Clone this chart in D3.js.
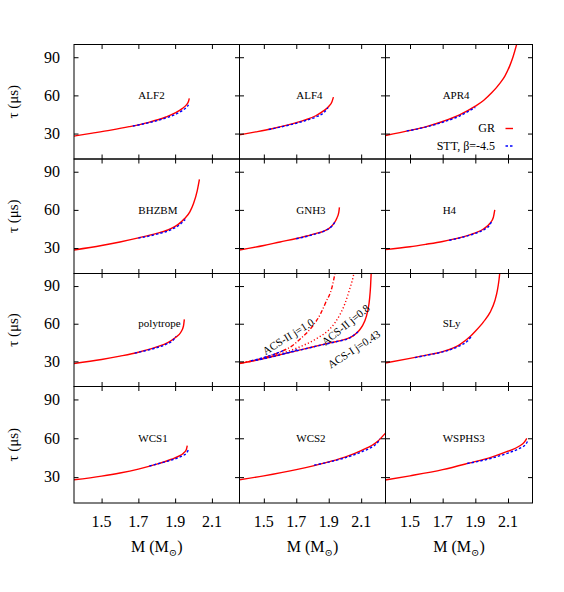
<!DOCTYPE html>
<html>
<head>
<meta charset="utf-8">
<script src="https://cdn.jsdelivr.net/npm/d3@7"></script>
<style>
  body { margin: 0; background: #fff; }
  svg text { font-family: "Liberation Serif", "Times New Roman", "DejaVu Serif", serif; fill: #000; }
</style>
</head>
<body>
<script>
// axes
let xTicks = [1.5, 1.7, 1.9, 2.1];
let yTicks = [30, 60, 90];
let xDomain = [1.35, 2.25];
let yDomain = [10, 100];

// [M, tau]
let grALF2 = [[1.35,28.0],[1.45,30.3],[1.55,32.7],[1.65,35.4],[1.75,38.6],[1.85,43.0],[1.9,46.2],[1.94,49.8],[1.96,52.4],[1.972,55.0],[1.977,57.7]];
let sttALF2 = [[1.67,35.9],[1.75,38.3],[1.85,42.3],[1.9,45.0],[1.94,48.2],[1.962,50.6],[1.973,52.6]];
let grALF4 = [[1.35,29.0],[1.45,31.3],[1.55,33.8],[1.65,36.8],[1.75,40.5],[1.82,44.0],[1.87,48.0],[1.9,51.3],[1.92,55.0],[1.929,58.6]];
let sttALF4 = [[1.53,33.2],[1.65,36.5],[1.75,39.9],[1.82,43.0],[1.87,46.5],[1.895,50.3]];
let grAPR4 = [[1.35,28.5],[1.5,32.5],[1.6,35.5],[1.7,39.5],[1.8,44.5],[1.9,51.5],[1.95,56.0],[2.0,62.0],[2.05,69.5],[2.08,75.0],[2.11,83.0],[2.13,90.0],[2.155,101.0]];
let sttAPR4 = [[1.48,32.0],[1.6,35.2],[1.7,38.9],[1.8,43.6],[1.9,50.6]];
let grBHZBM = [[1.35,28.5],[1.5,32.0],[1.6,34.8],[1.7,38.0],[1.8,41.5],[1.86,44.2],[1.92,49.0],[1.95,53.0],[1.98,58.5],[2.0,65.0],[2.02,75.0],[2.032,84.0]];
let sttBHZBM = [[1.7,37.8],[1.8,40.9],[1.88,44.6],[1.93,49.0],[1.955,52.5]];
let grGNH3 = [[1.35,28.5],[1.5,32.0],[1.6,34.8],[1.7,37.5],[1.8,40.8],[1.9,45.3],[1.93,49.0],[1.95,53.5],[1.962,58.0],[1.966,62.0]];
let sttGNH3 = [[1.7,37.3],[1.8,40.4],[1.88,43.8],[1.92,47.3],[1.94,50.8]];
let grH4 = [[1.35,28.8],[1.5,31.0],[1.6,33.0],[1.7,35.2],[1.8,38.0],[1.9,42.0],[1.95,45.0],[1.99,49.5],[2.01,54.0],[2.019,60.0]];
let sttH4 = [[1.74,36.1],[1.82,38.5],[1.9,41.6],[1.96,45.0],[1.99,48.5],[2.003,52.0]];
let grPoly = [[1.35,28.3],[1.5,31.5],[1.6,34.2],[1.7,37.3],[1.8,41.5],[1.86,45.0],[1.9,48.8],[1.93,53.0],[1.945,58.0],[1.95,63.5]];
let sttPoly = [[1.68,36.6],[1.78,40.1],[1.85,43.6],[1.89,47.0],[1.905,50.0]];
let grSLy = [[1.35,28.8],[1.5,32.4],[1.6,35.0],[1.7,37.8],[1.8,43.0],[1.87,50.0],[1.9,54.0],[1.95,61.5],[1.99,69.0],[2.02,78.5],[2.035,86.5],[2.045,95.0],[2.05,101.0]];
let sttSLy = [[1.53,33.0],[1.63,35.6],[1.73,38.6],[1.8,42.2],[1.85,46.0],[1.878,50.3]];
let grWCS1 = [[1.35,27.9],[1.5,30.8],[1.6,33.2],[1.7,36.2],[1.8,40.0],[1.88,43.8],[1.92,46.2],[1.945,48.5],[1.96,51.0],[1.966,54.4]];
let sttWCS1 = [[1.76,38.6],[1.84,41.6],[1.9,44.1],[1.94,46.5],[1.963,48.8],[1.972,51.0]];
let grWCS2 = [[1.35,28.0],[1.5,31.0],[1.7,35.8],[1.9,41.8],[2.0,45.5],[2.1,50.5],[2.2,57.5],[2.25,64.0]];
let sttWCS2 = [[1.81,39.3],[1.9,41.6],[2.0,44.9],[2.1,49.4],[2.17,53.6],[2.2,56.4],[2.215,59.5]];
let grWSPHS3 = [[1.35,27.8],[1.5,31.0],[1.7,35.8],[1.86,40.8],[2.0,45.5],[2.1,50.0],[2.17,54.0],[2.2,57.0],[2.215,60.0]];
let sttWSPHS3 = [[1.85,40.5],[2.0,44.6],[2.1,48.6],[2.17,52.2],[2.21,55.5],[2.222,58.2]];

// rotating models panel
let acsI = [[1.35,28.2],[1.5,32.2],[1.6,35.3],[1.7,38.4],[1.8,41.5],[1.9,44.6],[2.0,47.5],[2.05,50.3],[2.09,55.0],[2.12,61.5],[2.14,70.0],[2.152,80.0],[2.158,90.0],[2.162,101.0]];
let sttAcsI = [[1.62,36.0],[1.75,39.8],[1.85,42.9],[1.95,45.8],[2.03,48.8],[2.08,53.5]];
let acsII10 = [[1.35,28.5],[1.45,31.0],[1.53,34.2],[1.6,37.5],[1.67,42.0],[1.73,48.5],[1.8,58.0],[1.85,68.0],[1.88,76.5],[1.92,89.0],[1.94,101.0]];
let sttAcsII10 = [[1.42,30.4],[1.5,33.1],[1.57,36.0],[1.62,38.6]];
let acsII08 = [[1.35,28.5],[1.45,31.0],[1.55,34.0],[1.63,37.2],[1.73,42.0],[1.83,48.5],[1.9,55.0],[1.94,61.0],[1.97,67.5],[2.0,76.0],[2.03,88.0],[2.05,97.0],[2.056,101.0]];
let sttAcsII08 = [[1.45,30.8],[1.55,33.6],[1.65,37.0],[1.72,40.0]];
let acsLabels = [
  {text: "ACS-II j=1.0", m: 1.651, tau: 49.7, angle: -32},
  {text: "ACS-II j=0.8", m: 2.005, tau: 59.0, angle: -39},
  {text: "ACS-I j=0.43", m: 2.056, tau: 39.6, angle: -33}
];

let panels = [
  {r:0, c:0, name:"ALF2", gr:grALF2, stt:sttALF2},
  {r:0, c:1, name:"ALF4", gr:grALF4, stt:sttALF4},
  {r:0, c:2, name:"APR4", gr:grAPR4, stt:sttAPR4, legend:true},
  {r:1, c:0, name:"BHZBM", gr:grBHZBM, stt:sttBHZBM},
  {r:1, c:1, name:"GNH3", gr:grGNH3, stt:sttGNH3},
  {r:1, c:2, name:"H4", gr:grH4, stt:sttH4},
  {r:2, c:0, name:"polytrope", gr:grPoly, stt:sttPoly},
  {r:2, c:1, name:null, acs:true},
  {r:2, c:2, name:"SLy", gr:grSLy, stt:sttSLy},
  {r:3, c:0, name:"WCS1", gr:grWCS1, stt:sttWCS1},
  {r:3, c:1, name:"WCS2", gr:grWCS2, stt:sttWCS2},
  {r:3, c:2, name:"WSPHS3", gr:grWSPHS3, stt:sttWSPHS3}
];

let colEdges = [74, 239.5, 385.5, 532.5];
let rowEdges = [44.5, 159, 273.5, 386.5, 503];
let red = "#ff0000";
let blue = "#0000ff";
let tickLen = 4.5;
let serif = "'Liberation Serif', 'Times New Roman', 'DejaVu Serif', serif";

let svg = d3.select("body").append("svg")
  .attr("width", 564)
  .attr("height", 592)
  .attr("font-family", serif);

let defs = svg.append("defs");

panels.forEach((p, i) => {
  let x0 = colEdges[p.c], x1 = colEdges[p.c + 1];
  let y0 = rowEdges[p.r], y1 = rowEdges[p.r + 1];
  let x = d3.scaleLinear().domain(xDomain).range([x0, x1]);
  let y = d3.scaleLinear().domain(yDomain).range([y1, y0]);
  let line = d3.line().x(d => x(d[0])).y(d => y(d[1])).curve(d3.curveMonotoneX);

  defs.append("clipPath").attr("id", "clip" + i)
    .append("rect")
    .attr("x", x0).attr("y", y0)
    .attr("width", x1 - x0).attr("height", y1 - y0);

  let g = svg.append("g").attr("font-family", serif);
  let plot = g.append("g").attr("clip-path", "url(#clip" + i + ")");

  let curves = [];
  if (p.acs) {
    curves = [
      {d: acsII10, color: red, dash: "4,2,1,2"},
      {d: acsII08, color: red, dash: "1.2,2.2"},
      {d: acsI, color: red, dash: null},
      {d: sttAcsII10, color: blue, dash: "2.5,2"},
      {d: sttAcsII08, color: blue, dash: "2.5,2"},
      {d: sttAcsI, color: blue, dash: "2.5,2"}
    ];
  } else {
    curves = [
      {d: p.gr, color: red, dash: null},
      {d: p.stt, color: blue, dash: "2.5,2"}
    ];
  }
  curves.forEach(cv => {
    plot.append("path")
      .attr("d", line(cv.d))
      .attr("fill", "none")
      .attr("stroke", cv.color)
      .attr("stroke-width", 1.4)
      .attr("stroke-dasharray", cv.dash);
  });

  // border
  g.append("rect")
    .attr("x", x0).attr("y", y0)
    .attr("width", x1 - x0).attr("height", y1 - y0)
    .attr("fill", "none")
    .attr("stroke", "#000")
    .attr("stroke-width", 1);

  // inward ticks on all four sides
  let axes = [
    [d3.axisBottom(x).tickValues(xTicks), "translate(0," + y1 + ")"],
    [d3.axisTop(x).tickValues(xTicks), "translate(0," + y0 + ")"],
    [d3.axisLeft(y).tickValues(yTicks), "translate(" + x0 + ",0)"],
    [d3.axisRight(y).tickValues(yTicks), "translate(" + x1 + ",0)"]
  ];
  axes.forEach(a => {
    let ax = g.append("g").attr("transform", a[1])
      .call(a[0].tickSize(-tickLen).tickFormat(""));
    ax.select(".domain").remove();
    ax.selectAll(".tick line").attr("stroke", "#000").attr("stroke-width", 1);
  });

  if (p.name) {
    g.append("text")
      .attr("x", x(1.7))
      .attr("y", y(60))
      .attr("dy", "0.33em")
      .attr("font-size", 11)
      .attr("font-family", serif)
      .text(p.name);
  }

  if (p.acs) {
    acsLabels.forEach(l => {
      g.append("text")
        .attr("transform", "translate(" + x(l.m) + "," + y(l.tau) + ") rotate(" + l.angle + ")")
        .attr("text-anchor", "middle")
        .attr("dy", "0.33em")
        .attr("font-size", 11)
        .attr("font-family", serif)
        .text(l.text);
    });
  }

  if (p.legend) {
    let items = [
      {label: "GR", color: red, dash: null, yy: 128.5},
      {label: "STT, \u03b2=-4.5", color: blue, dash: "2.5,2", yy: 146}
    ];
    items.forEach(it => {
      g.append("text")
        .attr("x", 495).attr("y", it.yy)
        .attr("dy", "0.33em")
        .attr("text-anchor", "end")
        .attr("font-size", 12)
        .attr("font-family", serif)
        .text(it.label);
      g.append("line")
        .attr("x1", 505.5).attr("x2", 513)
        .attr("y1", it.yy).attr("y2", it.yy)
        .attr("stroke", it.color)
        .attr("stroke-width", 1.4)
        .attr("stroke-dasharray", it.dash);
    });
  }

  // y tick labels and title on the left column
  if (p.c === 0) {
    g.selectAll(".ylab").data(yTicks).enter().append("text")
      .attr("x", 60)
      .attr("y", d => y(d))
      .attr("dy", "0.33em")
      .attr("text-anchor", "end")
      .attr("font-size", 16)
      .attr("font-family", serif)
      .text(d => d);
    g.append("text")
      .attr("transform", "translate(18," + ((y0 + y1) / 2) + ") rotate(-90)")
      .attr("text-anchor", "middle")
      .attr("font-size", 15)
      .attr("font-family", serif)
      .text("\u03c4 (\u03bcs)");
  }

  // x tick labels and title on the bottom row
  if (p.r === 3) {
    g.selectAll(".xlab").data(xTicks).enter().append("text")
      .attr("x", d => x(d))
      .attr("y", 527)
      .attr("text-anchor", "middle")
      .attr("font-size", 16)
      .attr("font-family", serif)
      .text(d => d.toFixed(1));
    let t = g.append("text")
      .attr("x", (x0 + x1) / 2)
      .attr("y", 552)
      .attr("text-anchor", "middle")
      .attr("font-size", 16)
      .attr("font-family", serif);
    t.append("tspan").text("M (M");
    t.append("tspan").attr("font-size", 10).attr("dy", 4).text("\u2299");
    t.append("tspan").attr("dy", -4).text(")");
  }
});
</script>
</body>
</html>
